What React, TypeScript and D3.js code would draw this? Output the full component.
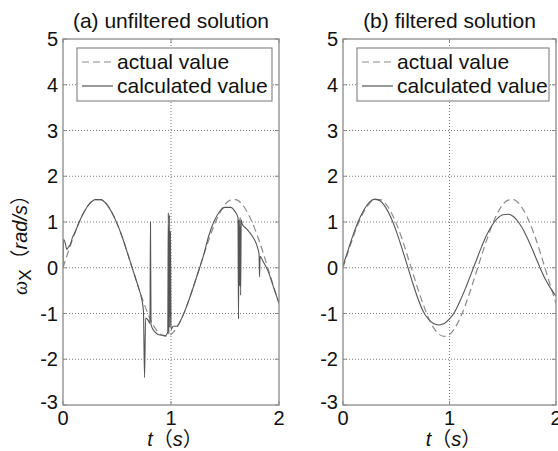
import * as d3 from "d3";

// time samples used for the smooth curves (s)
const tSmooth = [
  0, 0.05, 0.1, 0.15, 0.2, 0.25, 0.3, 0.35, 0.4, 0.45, 0.5, 0.55, 0.6, 0.65, 0.7,
  0.75, 0.8, 0.85, 0.9, 0.95, 1.0, 1.05, 1.1, 1.15, 1.2, 1.25, 1.3, 1.35, 1.4,
  1.45, 1.5, 1.55, 1.6, 1.65, 1.7, 1.75, 1.8, 1.85, 1.9, 1.95, 2.0,
];

// actual value of omega_X (rad/s)
const actualValues = [
  0, 0.36, 0.7, 1.0, 1.24, 1.41, 1.49, 1.49, 1.4, 1.22, 0.97, 0.66, 0.3, -0.07,
  -0.44, -0.78, -1.08, -1.31, -1.45, -1.5, -1.46, -1.32, -1.1, -0.81, -0.47,
  -0.11, 0.26, 0.61, 0.93, 1.19, 1.38, 1.48, 1.49, 1.41, 1.24, 1.0, 0.7, 0.35,
  -0.03, -0.41, -0.78,
];

// filtered solution (panel b, solid curve)
const filteredValues = [
  0.05, 0.4, 0.75, 1.05, 1.28, 1.44, 1.5, 1.46, 1.32, 1.1, 0.8, 0.45, 0.08, -0.3,
  -0.65, -0.94, -1.12, -1.22, -1.25, -1.22, -1.12, -0.96, -0.72, -0.45, -0.15,
  0.15, 0.45, 0.72, 0.93, 1.08, 1.16, 1.17, 1.12, 0.99, 0.8, 0.55, 0.28, 0.0,
  -0.25, -0.45, -0.62,
];

// unfiltered solution (panel a, solid curve) with its spikes
const tUnfiltered = [
  0, 0.005, 0.02, 0.035, 0.05, 0.07, 0.09, 0.1, 0.15, 0.2, 0.25, 0.3, 0.35, 0.4,
  0.45, 0.5, 0.55, 0.6, 0.65, 0.7, 0.73, 0.745, 0.755, 0.765, 0.79, 0.805, 0.81,
  0.815, 0.85, 0.9, 0.95, 0.97, 0.975, 0.98, 0.985, 0.99, 0.995, 1.0, 1.02, 1.05,
  1.1, 1.15, 1.2, 1.25, 1.3, 1.35, 1.4, 1.45, 1.5, 1.55, 1.6, 1.62, 1.625, 1.63,
  1.635, 1.64, 1.645, 1.65, 1.66, 1.7, 1.75, 1.8, 1.815, 1.82, 1.825, 1.85, 1.9,
  1.95, 2.0,
];
const unfilteredValues = [
  0, 0.62, 0.55, 0.4, 0.45, 0.52, 0.68, 0.72, 1.0, 1.24, 1.41, 1.49, 1.49, 1.4,
  1.22, 0.97, 0.66, 0.3, -0.07, -0.44, -0.7, -0.95, -2.4, -1.1, -1.15, -1.22, 1.0,
  -1.25, -1.4, -1.47, -1.48, -1.4, 1.2, -1.45, 1.15, -1.3, 0.8, -1.35, -1.28,
  -1.28, -1.1, -0.81, -0.47, -0.11, 0.26, 0.7, 1.02, 1.23, 1.32, 1.32, 1.2, 1.1,
  -1.12, 1.05, -0.4, 1.1, -0.6, 1.05, 0.95, 0.85, 0.7, 0.45, 0.3, -0.2, 0.25,
  0.15, -0.08, -0.43, -0.78,
];

const xTicks = [0, 1, 2];
const yTicks = [-3, -2, -1, 0, 1, 2, 3, 4, 5];
const legendLabels = ["actual value", "calculated value"];

const FONT = "'Liberation Sans', Arial, 'Noto Sans CJK SC', sans-serif";
const AXIS = "#8a8a8a";
const GRID = "#555";

type Pt = [number, number];

const zip = (ts: number[], vs: number[]): Pt[] => ts.map((t, i) => [t, vs[i]]);

const Panel = ({
  id,
  left,
  right,
  title,
  calc,
}: {
  id: string;
  left: number;
  right: number;
  title: string;
  calc: Pt[];
}) => {
  const top = 39;
  const bottom = 405;
  const x = d3.scaleLinear().domain([0, 2]).range([left, right]);
  const y = d3.scaleLinear().domain([-3, 5]).range([bottom, top]);
  const line = d3
    .line<Pt>()
    .x((d) => x(d[0]))
    .y((d) => y(d[1]))
    .curve(d3.curveMonotoneX);
  const actual = zip(tSmooth, actualValues);
  const cx = (left + right) / 2;
  const lgX = left + 14;
  const lgW = right - 7 - lgX;

  return (
    <g>
      <defs>
        <clipPath id={id}>
          <rect x={left} y={top} width={right - left} height={bottom - top} />
        </clipPath>
      </defs>
      <text x={cx} y={28} textAnchor="middle" fontSize={21} fontFamily={FONT} fill="#111">
        {title}
      </text>
      {/* grid */}
      {yTicks.slice(1, -1).map((v) => (
        <line key={"gy" + v} x1={left} x2={right} y1={y(v)} y2={y(v)} stroke={GRID} strokeWidth={0.8} strokeDasharray="1,2" />
      ))}
      {xTicks.slice(1, -1).map((v) => (
        <line key={"gx" + v} x1={x(v)} x2={x(v)} y1={top} y2={bottom} stroke={GRID} strokeWidth={0.8} strokeDasharray="1,2" />
      ))}
      {/* curves */}
      <g clipPath={`url(#${id})`}>
        <path d={line(actual) ?? ""} fill="none" stroke="#8c8c8c" strokeWidth={1.2} strokeDasharray="7,4" />
        <path d={line(calc) ?? ""} fill="none" stroke="#555" strokeWidth={1.1} />
      </g>
      {/* box and ticks */}
      <rect x={left} y={top} width={right - left} height={bottom - top} fill="none" stroke={AXIS} strokeWidth={1.3} />
      {yTicks.map((v) => (
        <g key={"ty" + v}>
          <line x1={left} x2={left + 4} y1={y(v)} y2={y(v)} stroke={AXIS} />
          <line x1={right - 4} x2={right} y1={y(v)} y2={y(v)} stroke={AXIS} />
          <text
            x={left - 5}
            y={v === -3 ? y(v) - 3 : y(v)}
            dy="0.35em"
            textAnchor="end"
            fontSize={20}
            fontFamily={FONT}
            fill="#111"
          >
            {v}
          </text>
        </g>
      ))}
      {xTicks.map((v) => (
        <g key={"tx" + v}>
          <line x1={x(v)} x2={x(v)} y1={bottom} y2={bottom - 4} stroke={AXIS} />
          <line x1={x(v)} x2={x(v)} y1={top} y2={top + 4} stroke={AXIS} />
          <text x={x(v)} y={425} textAnchor="middle" fontSize={20} fontFamily={FONT} fill="#111">
            {v}
          </text>
        </g>
      ))}
      {/* x label */}
      <text x={cx + 4} y={446} textAnchor="middle" fontSize={20} fontFamily={FONT} fill="#111">
        <tspan fontStyle="italic">t</tspan>
        <tspan>（</tspan>
        <tspan fontStyle="italic">s</tspan>
        <tspan>）</tspan>
      </text>
      {/* legend */}
      <rect x={lgX} y={48} width={lgW} height={53} fill="#fff" stroke={AXIS} strokeWidth={1.2} />
      {legendLabels.map((lab, i) => {
        const ly = 62 + i * 24;
        return (
          <g key={lab}>
            <line
              x1={lgX + 5}
              x2={lgX + 36}
              y1={ly}
              y2={ly}
              stroke={i === 0 ? "#8c8c8c" : "#555"}
              strokeWidth={1.2}
              strokeDasharray={i === 0 ? "7,4" : undefined}
            />
            <text x={lgX + 40} y={ly} dy="0.35em" fontSize={21} fontFamily={FONT} fill="#111">
              {lab}
            </text>
          </g>
        );
      })}
    </g>
  );
};

export default function App() {
  return (
    <svg width={558} height={451} style={{ position: "absolute", left: 0, top: 0, background: "#fff" }}>
      <rect width={558} height={451} fill="#fff" />
      <Panel id="clipA" left={63} right={279} title="(a) unfiltered solution" calc={zip(tUnfiltered, unfilteredValues)} />
      <Panel id="clipB" left={343} right={556} title="(b) filtered solution" calc={zip(tSmooth, filteredValues)} />
      <text transform="translate(27, 240) rotate(-90)" textAnchor="middle" fontSize={20} fontFamily={FONT} fill="#111">
        <tspan fontStyle="italic" fontFamily="'Liberation Serif', serif">ω</tspan>
        <tspan fontSize={17} dy={4}>X</tspan>
        <tspan dy={-4}>（</tspan>
        <tspan fontStyle="italic">rad/s</tspan>
        <tspan>）</tspan>
      </text>
    </svg>
  );
}
